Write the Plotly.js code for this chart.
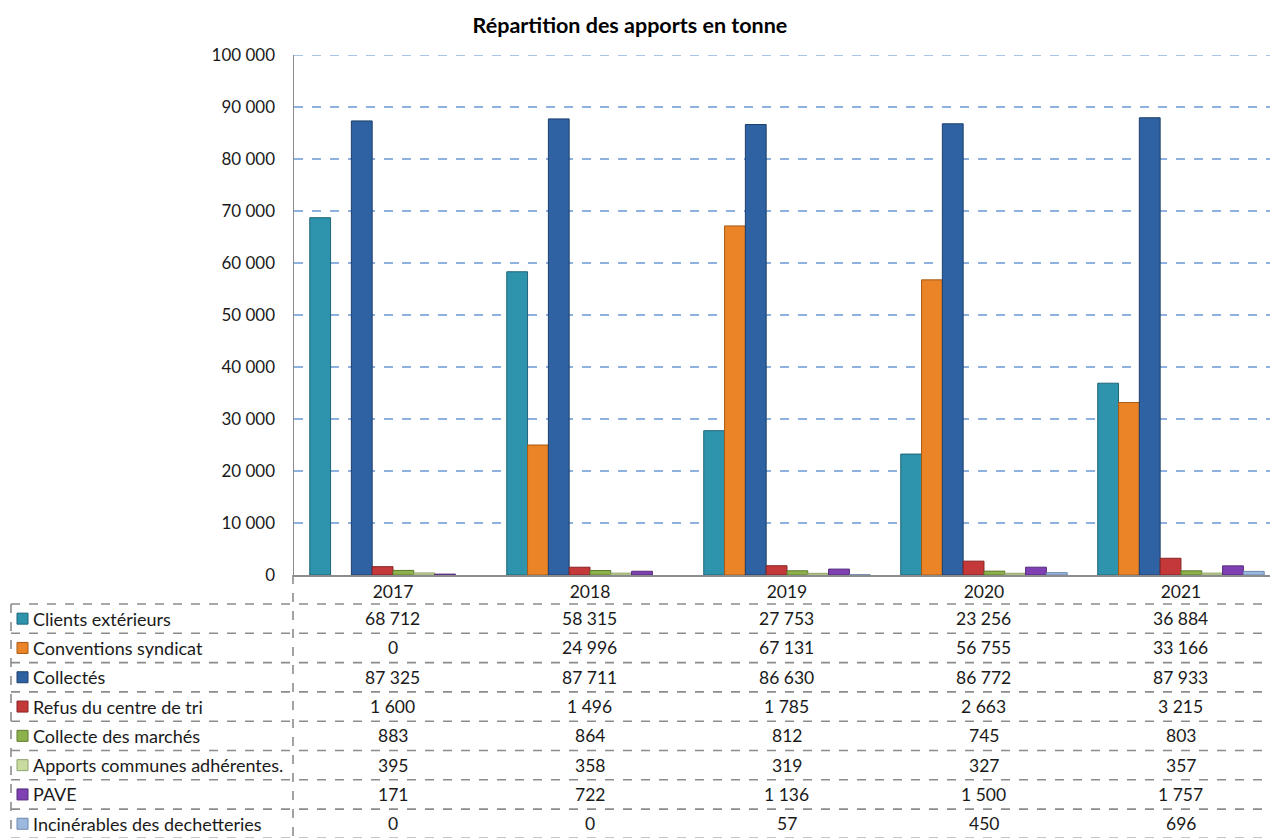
<!DOCTYPE html>
<html><head><meta charset="utf-8">
<script src="https://cdn.plot.ly/plotly-3.0.1.min.js"></script>
<style>html,body{margin:0;padding:0;background:#fff}#chart{width:1270px;height:838px}</style>
</head><body><div id="chart"></div>
<script>
const years = ['2017','2018','2019','2020','2021'];
const seriesNames = ['Clients extérieurs','Conventions syndicat','Collectés','Refus du centre de tri','Collecte des marchés','Apports communes adhérentes.','PAVE','Incinérables des dechetteries'];
const clientsExterieurs = [68712, 58315, 27753, 23256, 36884];
const conventionsSyndicat = [0, 24996, 67131, 56755, 33166];
const collectes = [87325, 87711, 86630, 86772, 87933];
const refusCentreTri = [1600, 1496, 1785, 2663, 3215];
const collecteMarches = [883, 864, 812, 745, 803];
const apportsCommunes = [395, 358, 319, 327, 357];
const pave = [171, 722, 1136, 1500, 1757];
const incinerables = [0, 0, 57, 450, 696];
const yTickVals = [0,10000,20000,30000,40000,50000,60000,70000,80000,90000,100000];
const yTickText = ['0','10 000','20 000','30 000','40 000','50 000','60 000','70 000','80 000','90 000','100 000'];

const allSeries = [clientsExterieurs, conventionsSyndicat, collectes, refusCentreTri, collecteMarches, apportsCommunes, pave, incinerables];
const fills = ['#2E93AC','#EA8426','#2F62A3','#C4383A','#8DB24C','#C9DB9F','#7E40B3','#9CB8DE'];
const edges = ['#1F6678','#A85A14','#1E3F6B','#872325','#5F7A2E','#8FA36A','#552B7A','#6C88AE'];

const fmt = v => String(v).replace(/\B(?=(\d{3})+(?!\d))/g, ' ');

const FONT = 'Lato, "Open Sans", sans-serif';
const L = 294, W = 1270, H = 838, T = 55, B = 263;
const plotW = W - L, plotH = H - T - B;
const px = x => (x - L) / plotW;
const py = y => (H - B - y) / plotH;

const traces = allSeries.map((vals, i) => ({
  type: 'bar', name: seriesNames[i], x: years.map((_, k) => k), y: vals,
  marker: {color: fills[i], line: {color: edges[i], width: vals.map(v => v > 0 ? 1 : 0)}},
  hoverinfo: 'none', showlegend: false
}));

const shapes = [];
const annotations = [];
const rowH = 29.3;
const firstLine = 604;
const dash = {color: '#8C8C8C', width: 1.6, dash: 'dash'};
// top gridline
shapes.push({type: 'line', xref: 'paper', yref: 'y', x0: 0, x1: 1, y0: 100000, y1: 100000,
  line: {color: '#8EB1DF', width: 1.3, dash: 'dash'}, layer: 'below'});
// horizontal table lines
for (let r = 0; r <= 8; r++) {
  const y = firstLine + r * rowH;
  shapes.push({type: 'line', xref: 'paper', yref: 'paper', x0: px(11), x1: px(1270), y0: py(y), y1: py(y), line: dash});
}
// vertical table lines
shapes.push({type: 'line', xref: 'paper', yref: 'paper', x0: px(11), x1: px(11), y0: py(firstLine), y1: py(H), line: dash});
shapes.push({type: 'line', xref: 'paper', yref: 'paper', x0: px(293), x1: px(293), y0: py(575), y1: py(H), line: dash});

// rows
seriesNames.forEach((name, r) => {
  const cy = firstLine + (r + 0.5) * rowH;
  shapes.push({type: 'rect', xref: 'paper', yref: 'paper', x0: px(17), x1: px(28), y0: py(cy - 5.5), y1: py(cy + 5.5),
    fillcolor: fills[r], line: {color: edges[r], width: 1}});
  annotations.push({xref: 'paper', yref: 'paper', x: px(31), y: py(cy), xanchor: 'left', yanchor: 'middle',
    text: name, showarrow: false, font: {family: FONT, size: 18, color: '#1a1a1a'}});
  allSeries[r].forEach((v, k) => {
    annotations.push({xref: 'x', yref: 'paper', x: k, y: py(cy), xanchor: 'center', yanchor: 'middle',
      text: fmt(v), showarrow: false, font: {family: FONT, size: 17.5, color: '#1a1a1a'}});
  });
});

const layout = {
  width: W, height: H,
  margin: {l: L, r: 0, t: T, b: B, pad: 0},
  paper_bgcolor: '#fff', plot_bgcolor: '#fff',
  separators: ', ',
  title: {text: '<b>Répartition des apports en tonne</b>', x: 0.496, xref: 'container', y: 0.97, yref: 'container', yanchor: 'middle',
    font: {family: FONT, size: 21.5, color: '#000'}},
  barmode: 'group', bargap: 0.155, bargroupgap: 0,
  xaxis: {type: 'linear', range: [-0.5025, 4.452], tickvals: [0,1,2,3,4], ticktext: years,
    showgrid: false, zeroline: false, showline: true, linecolor: '#8C8C8C', linewidth: 1.5,
    ticks: '', tickfont: {family: FONT, size: 17.5, color: '#1a1a1a'}, fixedrange: true},
  yaxis: {range: [0, 100000], tickvals: yTickVals, ticktext: yTickText,
    showgrid: true, gridcolor: '#8EB1DF', griddash: 'dash', gridwidth: 1.3,
    zeroline: false, showline: true, linecolor: '#8C8C8C', linewidth: 1.5,
    ticks: '', ticklabelstandoff: 14, tickfont: {family: FONT, size: 17, color: '#1a1a1a'}, fixedrange: true},
  shapes: shapes, annotations: annotations
};

Plotly.newPlot('chart', traces, layout, {displayModeBar: false, staticPlot: true});
</script>
</body></html>
